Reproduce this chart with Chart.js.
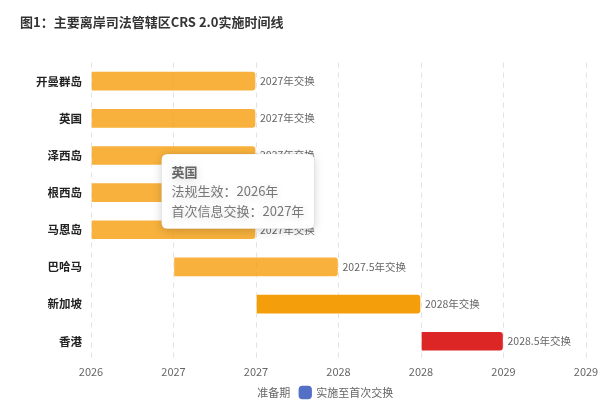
<!DOCTYPE html>
<html><head><meta charset="utf-8">
<script src="https://cdn.jsdelivr.net/npm/chart.js@4"></script>
<style>html,body{margin:0;padding:0;background:#fff;}#wrap{width:608px;height:407px;}</style>
</head><body><div id="wrap"><canvas id="c"></canvas></div>
<script>
const categories = ['开曼群岛','英国','泽西岛','根西岛','马恩岛','巴哈马','新加坡','香港'];
const lawEffective = [2026, 2026, 2026, 2026, 2026, 2026.5, 2027, 2028];
const firstExchange = [2027, 2027, 2027, 2027, 2027, 2027.5, 2028, 2028.5];
const exchangeLabels = ['2027年交换','2027年交换','2027年交换','2027年交换','2027年交换','2027.5年交换','2028年交换','2028.5年交换'];
const tooltipLaw = ['2026年','2026年','2026年','2026年','2026年','2026.5年','2027年','2028年'];
const tooltipExchange = ['2027年','2027年','2027年','2027年','2027年','2027.5年','2028年','2028.5年'];
const legendLabels = ['准备期','实施至首次交换'];
const barColors = ['rgba(245,158,11,0.8)','rgba(245,158,11,0.8)','rgba(245,158,11,0.8)','rgba(245,158,11,0.8)','rgba(245,158,11,0.8)','rgba(245,158,11,0.8)','#F59E0B','#DC2626'];
const xMin = 2026, xMax = 2029, xStep = 0.5;

const FONT = '"Noto Sans CJK SC","Noto Sans",sans-serif';
Chart.defaults.font.family = FONT;

const rangeData = categories.map((c,i)=>[lawEffective[i], firstExchange[i]]);

const endLabels = {
  id:'endLabels',
  afterDatasetsDraw(chart){
    const ctx = chart.ctx;
    const meta = chart.getDatasetMeta(1);
    ctx.save();
    ctx.font = '10.5px ' + FONT;
    ctx.fillStyle = '#666';
    ctx.textAlign = 'left';
    ctx.textBaseline = 'middle';
    meta.data.forEach((bar,i)=>{
      ctx.fillText(exchangeLabels[i], bar.x + 4, bar.y);
    });
    ctx.restore();
  }
};

const SHIFT = 14;
const legendShift = {
  id:'legendShift',
  afterLayout(chart){
    const lg = chart.legend;
    if(lg){ lg.left += SHIFT; lg.right += SHIFT; if(lg.legendHitBoxes){ lg.legendHitBoxes.forEach(b=>{ b.left += SHIFT; }); } }
  }
};

Chart.Tooltip.positioners.fixedNear = function(elements){
  if(!elements.length) return false;
  const el = elements[0].element;
  const xs = this.chart.scales.x;
  return {x: xs.getPixelForValue(xMin + 0.5) - 12, y: el.y + 73};
};

const tooltipShadow = {
  id:'tooltipShadow',
  beforeTooltipDraw(chart){
    const ctx = chart.ctx;
    ctx.save();
    ctx.shadowColor = 'rgba(0,0,0,0.18)';
    ctx.shadowBlur = 10;
    ctx.shadowOffsetY = 2;
  },
  afterTooltipDraw(chart){ chart.ctx.restore(); }
};

const chart = new Chart(document.getElementById('c'), {
  type:'bar',
  data:{
    labels: categories,
    datasets:[
      { label:legendLabels[0], data: categories.map(()=>null), backgroundColor:'rgba(0,0,0,0)', borderWidth:0 },
      { label:legendLabels[1], data: rangeData, backgroundColor: barColors,
        borderColor:'rgba(255,255,255,0.45)', borderWidth:1,
        borderRadius:{topRight:4,bottomRight:4,topLeft:0,bottomLeft:0}, borderSkipped:false,
        barThickness:20 }
    ]
  },
  options:{
    indexAxis:'y',
    responsive:true, maintainAspectRatio:false, animation:false,
    datasets:{ bar:{ grouped:false } },
    layout:{padding:{left:20,right:22,top:0,bottom:-1}},
    scales:{
      x:{ min:xMin, max:xMax,
        ticks:{ stepSize:xStep, color:'#666', font:{size:11}, padding:5,
          callback:(v)=>Math.round(v).toString() },
        grid:{ color:'#e2e2e2', drawTicks:false },
        border:{ display:false, dash:[5,5] } },
      y:{ stacked:true,
        ticks:{ color:'#222', font:{size:11.5, weight:'bold'}, padding:1 },
        grid:{ display:false }, border:{display:false},
        afterFit(scale){ scale.width = 71; } }
    },
    plugins:{
      title:{ display:true, text:'图1：主要离岸司法管辖区CRS 2.0实施时间线', align:'start',
        color:'#333', font:{size:13, weight:'bold'}, padding:{top:14,bottom:33} },
      legend:{ position:'bottom', labels:{ color:'#666', font:{size:11}, usePointStyle:true, pointStyle:'rectRounded', boxWidth:11, boxHeight:11, padding:4,
        generateLabels(chart){
          return [
            {text:legendLabels[0] + '\u2002', fillStyle:'rgba(0,0,0,0)', strokeStyle:'rgba(0,0,0,0)', lineWidth:0, pointStyle:'rectRounded', datasetIndex:0, fontColor:'#666'},
            {text:legendLabels[1], fillStyle:'#5470C6', strokeStyle:'#5470C6', lineWidth:0, pointStyle:'rectRounded', datasetIndex:1, fontColor:'#666'}
          ];
        } } },
      tooltip:{ position:'fixedNear', backgroundColor:'#fff', titleColor:'#666', bodyColor:'#777',
        titleFont:{size:13, weight:'bold'}, bodyFont:{size:13}, padding:10, caretSize:0, caretPadding:0, cornerRadius:6,
        displayColors:false, borderColor:'rgba(0,0,0,0.06)', borderWidth:1, bodySpacing:4, titleMarginBottom:4,
        xAlign:'left', yAlign:'center',
        filter:(item)=>item.datasetIndex===1,
        callbacks:{
          title:(items)=>categories[items[0].dataIndex],
          label:(item)=>['法规生效：'+tooltipLaw[item.dataIndex], '首次信息交换：'+tooltipExchange[item.dataIndex]]
        } }
    }
  },
  plugins:[endLabels, tooltipShadow, legendShift]
});
chart.tooltip.setActiveElements([{datasetIndex:1,index:1}], {x:0,y:0});
chart.update();
</script></body></html>
